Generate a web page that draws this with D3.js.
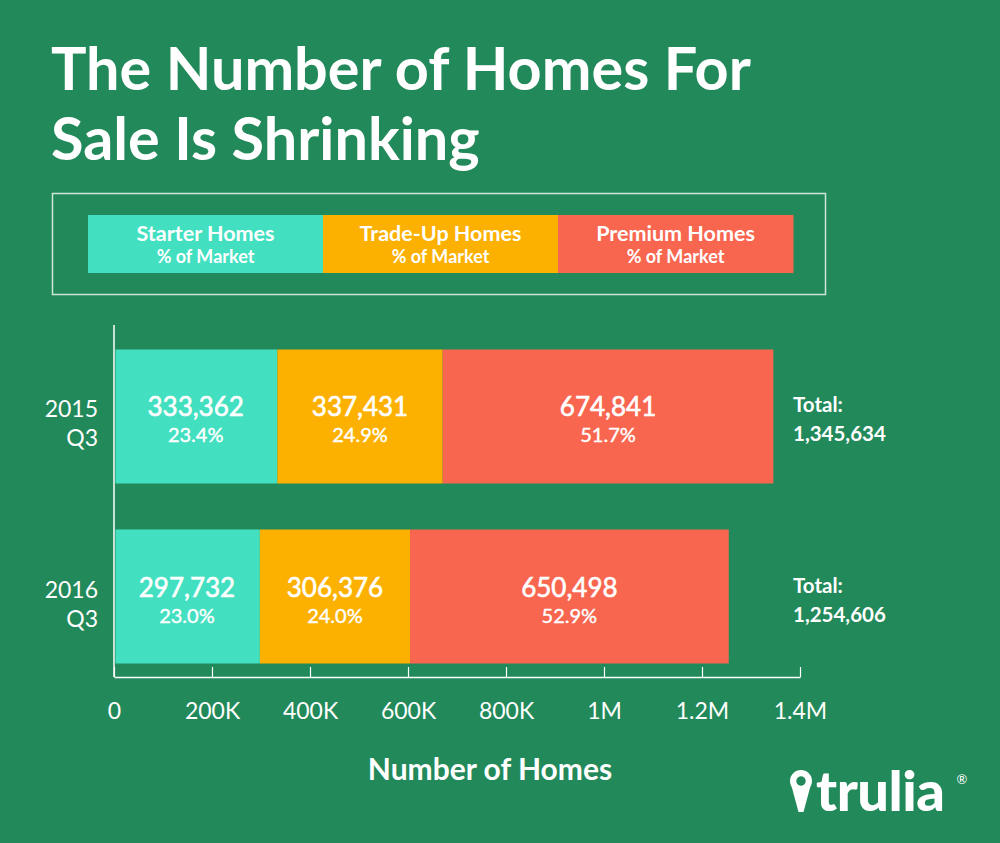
<!DOCTYPE html>
<html><head><meta charset="utf-8">
<script src="https://cdn.jsdelivr.net/npm/d3@7"></script>
<style>html,body{margin:0;padding:0;background:#22895a;}svg{display:block;}</style>
</head><body>
<svg id="c" width="1000" height="843"></svg>
<script>
const periods = ["2015\nQ3", "2016\nQ3"];
const seriesNames = ["Starter Homes", "Trade-Up Homes", "Premium Homes"];
const starter = [333362, 297732];
const tradeUp = [337431, 306376];
const premium = [674841, 650498];
const starterPct = ["23.4%", "23.0%"];
const tradeUpPct = ["24.9%", "24.0%"];
const premiumPct = ["51.7%", "52.9%"];
const totals = [1345634, 1254606];
const tickValues = [0, 200000, 400000, 600000, 800000, 1000000, 1200000, 1400000];
const tickLabels = ["0", "200K", "400K", "600K", "800K", "1M", "1.2M", "1.4M"];
const colors = ["#42dfc0", "#fcb100", "#f8664f"];

const svg = d3.select("#c");
const W = 1000, H = 843;
svg.append("rect").attr("width", W).attr("height", H).attr("fill", "#22895a");
const FONT = "Lato, 'Open Sans', sans-serif";

// Title
const title = svg.append("g").attr("font-family", FONT).attr("font-weight", 700).attr("fill", "#fff");
const t1 = title.append("text").attr("x", 51).attr("y", 90).attr("font-size", 60).text("The Number of Homes For");
const w1 = t1.node().getComputedTextLength();
const fs = 60 * 700 / w1;
t1.attr("font-size", fs);
title.append("text").attr("x", 51).attr("y", 160).attr("font-size", fs).text("Sale Is Shrinking");

// Legend
svg.append("rect").attr("x", 52.5).attr("y", 193.5).attr("width", 773).attr("height", 101)
  .attr("fill", "none").attr("stroke", "#cfe6da").attr("stroke-width", 1.5);
const lx = d3.scaleBand().domain(seriesNames).range([88, 793]).padding(0);
const lg = svg.append("g");
lg.selectAll("rect").data(seriesNames).join("rect")
  .attr("x", d => lx(d)).attr("y", 215).attr("width", lx.bandwidth() + 0.5).attr("height", 58)
  .attr("fill", (d, i) => colors[i]);
lg.selectAll("text.n").data(seriesNames).join("text").attr("class", "n")
  .attr("x", d => lx(d) + lx.bandwidth() / 2).attr("y", 241).attr("text-anchor", "middle")
  .attr("font-family", FONT).attr("font-weight", 700).attr("font-size", 21.5).attr("fill", "#fff").text(d => d);
lg.selectAll("text.p").data(seriesNames).join("text").attr("class", "p")
  .attr("x", d => lx(d) + lx.bandwidth() / 2).attr("y", 263).attr("text-anchor", "middle")
  .attr("font-family", FONT).attr("font-weight", 700).attr("font-size", 18).attr("fill", "#fff").text("% of Market");

// Scales
const x = d3.scaleLinear().domain([0, 1400000]).range([114, 800]);
const y = d3.scaleBand().domain(periods).range([327, 686]).paddingInner(0.2556).paddingOuter(0.125);

const rows = periods.map((p, i) => {
  const vals = [starter[i], tradeUp[i], premium[i]];
  const pcts = [starterPct[i], tradeUpPct[i], premiumPct[i]];
  let acc = 0;
  return vals.map((v, k) => { const s = { p, k, v, pct: pcts[k], x0: acc, x1: acc + v }; acc += v; return s; });
}).flat();

const bars = svg.append("g");
bars.selectAll("rect").data(rows).join("rect")
  .attr("x", d => x(d.x0) + (d.k === 0 ? 1.5 : 0)).attr("y", d => y(d.p))
  .attr("width", d => x(d.x1) - x(d.x0) - (d.k === 0 ? 1.5 : 0)).attr("height", y.bandwidth())
  .attr("fill", d => colors[d.k]);
bars.selectAll("text.v").data(rows).join("text").attr("class", "v")
  .attr("x", d => (x(d.x0) + x(d.x1)) / 2).attr("y", d => y(d.p) + y.bandwidth() / 2 + 0)
  .attr("text-anchor", "middle").attr("font-family", FONT).attr("font-weight", 400)
  .attr("font-size", 26).attr("fill", "#fff").attr("stroke", "#fff").attr("stroke-width", 0.6).text(d => d3.format(",")(d.v));
bars.selectAll("text.pc").data(rows).join("text").attr("class", "pc")
  .attr("x", d => (x(d.x0) + x(d.x1)) / 2).attr("y", d => y(d.p) + y.bandwidth() / 2 + 26)
  .attr("text-anchor", "middle").attr("font-family", FONT).attr("font-weight", 400)
  .attr("font-size", 20).attr("fill", "#fff").attr("stroke", "#fff").attr("stroke-width", 0.4).text(d => d.pct);

// Totals
const tg = svg.append("g").attr("font-family", FONT).attr("font-weight", 700).attr("fill", "#fff").attr("font-size", 20.5);
periods.forEach((p, i) => {
  tg.append("text").attr("x", 793).attr("y", y(p) + y.bandwidth() / 2 - 4).text("Total:");
  tg.append("text").attr("x", 793).attr("y", y(p) + y.bandwidth() / 2 + 25).text(d3.format(",")(totals[i]));
});

// Period labels
periods.forEach(p => {
  const parts = p.split("\n");
  const g = svg.append("text").attr("text-anchor", "end").attr("font-family", FONT).attr("font-weight", 400)
    .attr("font-size", 23).attr("fill", "#fff");
  g.append("tspan").attr("x", 98).attr("y", y(p) + y.bandwidth() / 2 + 1).text(parts[0]);
  g.append("tspan").attr("x", 98).attr("y", y(p) + y.bandwidth() / 2 + 30).text(parts[1]);
});

// X axis
const axisG = svg.append("g").attr("transform", "translate(0,677)")
  .call(d3.axisBottom(x).tickValues(tickValues).tickFormat((d, i) => tickLabels[i]).tickSizeInner(-10).tickSizeOuter(0).tickPadding(33));
axisG.select(".domain").attr("stroke", "#fff").attr("stroke-width", 1.5);
axisG.selectAll(".tick line").attr("stroke", "#fff").attr("stroke-width", 1.2);
axisG.selectAll(".tick text").attr("fill", "#fff").attr("font-family", FONT).attr("font-weight", 400)
  .attr("font-size", 23).attr("dy", "0.4em");
// Y axis line
svg.append("line").attr("x1", 114).attr("x2", 114).attr("y1", 325).attr("y2", 677)
  .attr("stroke", "#fff").attr("stroke-width", 1.5);

svg.append("text").attr("x", 490).attr("y", 780).attr("text-anchor", "middle").attr("font-family", FONT)
  .attr("font-weight", 700).attr("font-size", 30).attr("fill", "#fff").text("Number of Homes");

// Logo
const logo = svg.append("g").attr("fill", "#fff");
logo.append("path").attr("fill-rule", "evenodd")
  .attr("d", "M790,781 A11,11 0 1,1 812,781 A11,11 0 1,1 790,781 Z M796.5,781 A4.5,4.5 0 1,0 805.5,781 A4.5,4.5 0 1,0 796.5,781 Z");
logo.append("path").attr("d", "M791.5,786 L810.5,786 L803.5,812 L798.5,812 Z");
logo.append("path").attr("fill", "#22895a").attr("d", "M796.5,781 A4.5,4.5 0 1,0 805.5,781 A4.5,4.5 0 1,0 796.5,781 Z");
logo.append("text").attr("x", 816).attr("y", 811).attr("font-family", FONT).attr("font-weight", 900)
  .attr("font-size", 56).attr("letter-spacing", -0.5).text("trulia");
logo.append("text").attr("x", 962).attr("y", 784).attr("text-anchor", "middle").attr("font-family", FONT)
  .attr("font-size", 13).text("®");
</script>
</body></html>
